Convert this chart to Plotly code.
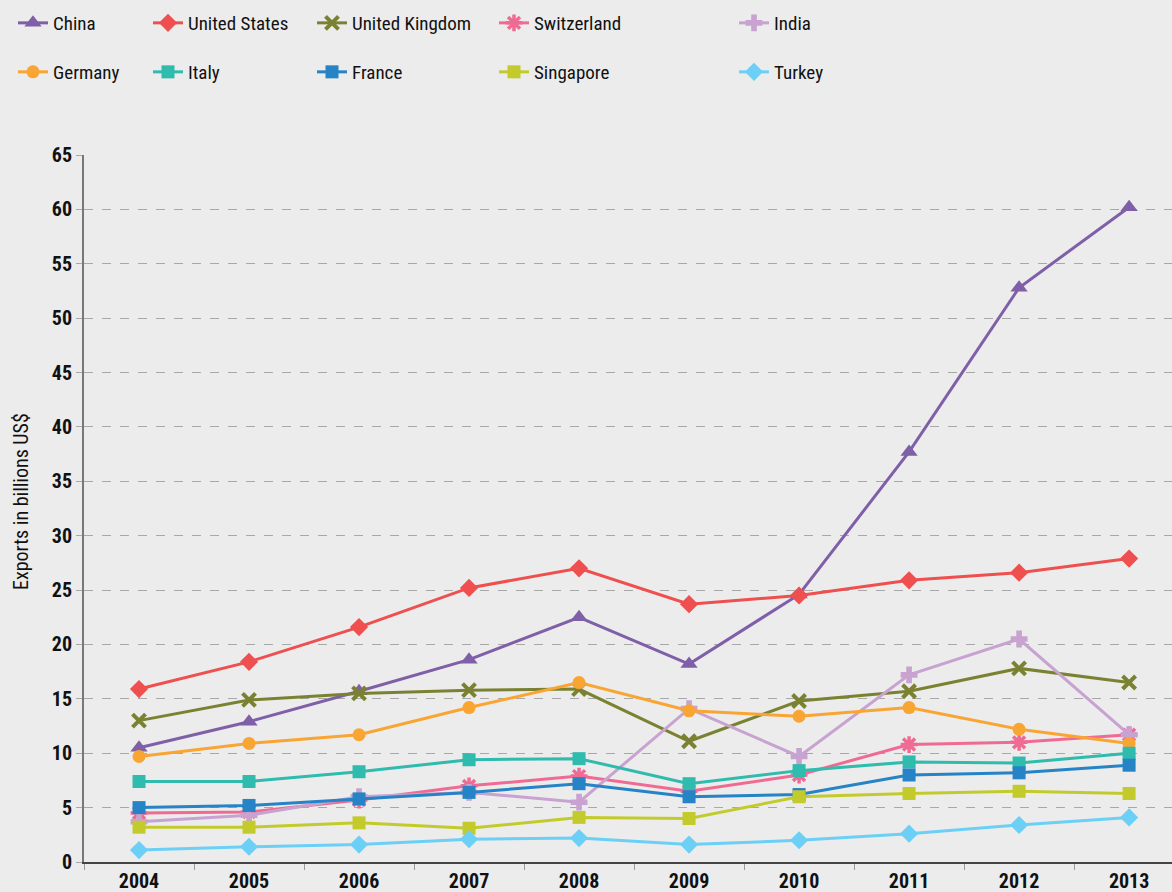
import plotly.graph_objects as go

years = ["2004", "2005", "2006", "2007", "2008", "2009", "2010", "2011", "2012", "2013"]

china = [10.5, 12.9, 15.7, 18.6, 22.5, 18.2, 24.6, 37.7, 52.8, 60.2]
united_states = [15.9, 18.4, 21.6, 25.2, 27.0, 23.7, 24.5, 25.9, 26.6, 27.9]
united_kingdom = [13.0, 14.9, 15.5, 15.8, 15.9, 11.1, 14.8, 15.7, 17.8, 16.5]
switzerland = [4.5, 4.6, 5.7, 7.0, 7.9, 6.5, 8.0, 10.8, 11.0, 11.7]
india = [3.7, 4.3, 6.0, 6.4, 5.5, 14.1, 9.7, 17.2, 20.5, 11.7]
germany = [9.7, 10.9, 11.7, 14.2, 16.5, 13.9, 13.4, 14.2, 12.2, 10.9]
italy = [7.4, 7.4, 8.3, 9.4, 9.5, 7.2, 8.4, 9.2, 9.1, 10.0]
france = [5.0, 5.2, 5.8, 6.4, 7.2, 6.0, 6.2, 8.0, 8.2, 8.9]
singapore = [3.2, 3.2, 3.6, 3.1, 4.1, 4.0, 6.0, 6.3, 6.5, 6.3]
turkey = [1.1, 1.4, 1.6, 2.1, 2.2, 1.6, 2.0, 2.6, 3.4, 4.1]

series = [
    ("China", china, "#7f5fa8", "triangle-up"),
    ("United States", united_states, "#ef4f4f", "diamond"),
    ("United Kingdom", united_kingdom, "#7a8232", "x-thin"),
    ("Switzerland", switzerland, "#f06b94", "asterisk"),
    ("India", india, "#c8a2d0", "cross"),
    ("Germany", germany, "#f9a533", "circle"),
    ("Italy", italy, "#2fbbad", "square"),
    ("France", france, "#2583c6", "square"),
    ("Singapore", singapore, "#c3cb2c", "square"),
    ("Turkey", turkey, "#6ccff6", "diamond"),
]

FONT = "Liberation Sans Narrow, Arial Narrow, Roboto Condensed, sans-serif"

# legend positions (pixels): column left edges and row centers
col_px = [12, 147, 311, 493, 733]
row_px = [23, 72]
W, H = 1172, 892
L, R, T, B = 84, 0, 155, 30

fig = go.Figure()
layout_legends = {}
for i, (name, vals, color, sym) in enumerate(series):
    lname = "legend" if i == 0 else f"legend{i+1}"
    if sym == "x-thin":
        marker = dict(color=color, size=13, symbol="x-thin", line=dict(color=color, width=4))
    elif sym == "asterisk":
        marker = dict(color=color, size=14, symbol="asterisk", line=dict(color=color, width=3.5))
    elif sym == "cross":
        marker = dict(color=color, size=14, symbol="cross", line=dict(width=0))
    elif sym == "triangle-up":
        marker = dict(color=color, size=15, symbol=sym, line=dict(width=0))
    elif sym == "diamond":
        marker = dict(color=color, size=14, symbol=sym, line=dict(width=0))
    else:
        marker = dict(color=color, size=13, symbol=sym, line=dict(width=0))
    fig.add_trace(go.Scatter(
        x=years, y=vals, name=name, mode="lines+markers",
        line=dict(color=color, width=3), marker=marker,
        legend=lname,
    ))
    col = i % 5
    row = i // 5
    layout_legends[lname] = dict(
        xref="container", yref="container",
        x=(col_px[col] + 1) / W, y=1 - row_px[row] / H,
        xanchor="left", yanchor="middle",
        bgcolor="rgba(0,0,0,0)", borderwidth=0,
        font=dict(family=FONT, size=19, color="#111"),
        itemwidth=30,
    )

fig.update_layout(**layout_legends)

fig.update_layout(
    width=W, height=H,
    paper_bgcolor="#ececec", plot_bgcolor="#ececec",
    margin=dict(l=L, r=R, t=T, b=B, autoexpand=False),
    font=dict(family=FONT, size=20, color="#111"),
    showlegend=True,
)

fig.update_xaxes(
    type="category", range=[-0.5, 9.39],
    showgrid=False, showline=True, linecolor="#444", linewidth=2,
    ticks="outside", tickson="boundaries", ticklen=6, tickcolor="#999", tickwidth=1,
    tickfont=dict(family=FONT, size=20, color="#111", weight="bold"),
    zeroline=False,
)
fig.update_yaxes(
    range=[0, 65], dtick=5, tick0=0,
    showgrid=True, gridcolor="#a8a8a8", griddash="dash", gridwidth=1,
    showline=True, linecolor="#777", linewidth=2,
    ticks="outside", ticklen=6, tickcolor="#a8a8a8",
    tickfont=dict(family=FONT, size=20, color="#111", weight="bold"),
    zeroline=False,
)

plot_w = W - L - R
fig.add_annotation(
    text="Exports in billions US$", textangle=-90,
    xref="paper", yref="paper", x=(21 - L) / plot_w, y=(862 - 502) / (H - T - B),
    xanchor="center", yanchor="middle", showarrow=False,
    font=dict(family=FONT, size=20, color="#111"),
)

fig.write_html("out.html", config={"displayModeBar": False},
               post_script="document.body.style.margin='0';document.body.style.padding='0';")
